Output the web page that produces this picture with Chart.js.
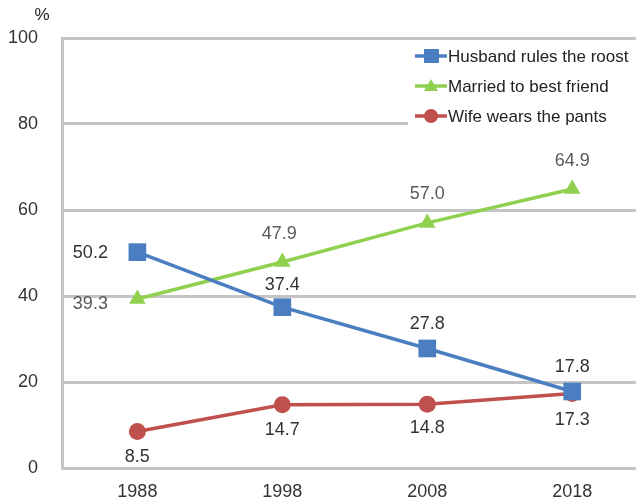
<!DOCTYPE html>
<html>
<head>
<meta charset="utf-8">
<script src="https://cdn.jsdelivr.net/npm/chart.js@4/dist/chart.umd.min.js"></script>
<style>
  html, body { margin: 0; padding: 0; background: #fff; }
  #wrap { width: 638px; height: 504px; position: relative; }
</style>
</head>
<body>
<div id="wrap"><canvas id="chart" width="638" height="504"></canvas></div>
<script>
const years = [1988, 1998, 2008, 2018];
const husband = [50.2, 37.4, 27.8, 17.8];
const married = [39.3, 47.9, 57.0, 64.9];
const wife = [8.5, 14.7, 14.8, 17.3];
const seriesNames = ['Husband rules the roost', 'Married to best friend', 'Wife wears the pants'];
const yTicks = [0, 20, 40, 60, 80, 100];

const blue = '#4a7ec0';
const green = '#8fd14f';
const red = '#c0504d';
const gridGray = '#c4c4c4';
const font = 'Liberation Sans, Arial, sans-serif';

// where each value label sits relative to its point: [dx, dy]
const labelOffsets = [
    [[-47, 1], [0, -22], [0, -24], [0, -24]],
    [[-47, 5], [-3, -28], [0, -29], [0, -28]],
    [[0, 26], [0, 25], [0, 24], [0, 26]]
];
const labelColors = ['#333', '#595959', '#333'];

function pts(vals) {
    return vals.map((v, i) => ({ x: years[i], y: v }));
}

const valueLabels = {
    id: 'valueLabels',
    afterDatasetsDraw(chart) {
        const c = chart.ctx;
        c.save();
        c.font = '18px ' + font;
        c.textAlign = 'center';
        c.textBaseline = 'middle';
        chart.data.datasets.forEach((ds, di) => {
            chart.getDatasetMeta(di).data.forEach((el, i) => {
                const o = labelOffsets[di][i];
                c.fillStyle = labelColors[di];
                c.fillText(ds.data[i].y.toFixed(1), el.x + o[0], el.y + o[1]);
            });
        });
        // year labels under the axis, placed by the x scale
        const xs = chart.scales.x;
        c.fillStyle = '#333';
        years.forEach(yr => {
            c.fillText(String(yr), xs.getPixelForValue(yr), chart.chartArea.bottom + 24);
        });
        c.restore();
    }
};

const boxLegend = {
    id: 'boxLegend',
    afterDraw(chart) {
        const c = chart.ctx;
        c.save();
        c.fillStyle = '#fff';
        c.fillRect(408, 42, 230, 88);
        const rows = [56, 86, 116];
        const styles = [[blue, 'rect'], [green, 'triangle'], [red, 'circle']];
        rows.forEach((y, i) => {
            const col = styles[i][0];
            c.strokeStyle = col;
            c.fillStyle = col;
            c.lineWidth = 3.5;
            c.beginPath();
            c.moveTo(415, y);
            c.lineTo(447, y);
            c.stroke();
            c.beginPath();
            if (styles[i][1] === 'rect') {
                c.fillRect(424, y - 7, 15, 14);
            } else if (styles[i][1] === 'triangle') {
                c.moveTo(431, y - 7);
                c.lineTo(438, y + 5);
                c.lineTo(424, y + 5);
                c.closePath();
                c.fill();
            } else {
                c.arc(431, y, 7, 0, Math.PI * 2);
                c.fill();
            }
            c.fillStyle = '#222';
            c.font = '17px ' + font;
            c.textAlign = 'left';
            c.textBaseline = 'middle';
            c.fillText(seriesNames[i], 448, y + 1);
        });
        c.fillStyle = '#222';
        c.font = '17px ' + font;
        c.textAlign = 'center';
        c.fillText('%', 42, 15);
        c.restore();
    }
};

new Chart(document.getElementById('chart'), {
    type: 'line',
    data: {
        datasets: [
            {
                label: seriesNames[0], data: pts(husband),
                borderColor: blue, backgroundColor: blue, borderWidth: 3.5,
                pointStyle: 'rect', pointRadius: 12.5, pointBorderWidth: 0
            },
            {
                label: seriesNames[1], data: pts(married),
                borderColor: green, backgroundColor: green, borderWidth: 3.5,
                pointStyle: 'triangle', pointRadius: 9.5, pointBorderWidth: 0
            },
            {
                label: seriesNames[2], data: pts(wife),
                borderColor: red, backgroundColor: red, borderWidth: 3.5,
                pointStyle: 'circle', pointRadius: 8.5, pointBorderWidth: 0
            }
        ]
    },
    options: {
        responsive: false,
        animation: false,
        layout: { autoPadding: false, padding: { top: 38, right: 2, left: 0, bottom: 0 } },
        plugins: { legend: { display: false }, tooltip: { enabled: false } },
        scales: {
            x: {
                type: 'linear',
                min: 1982.8,
                max: 2022.4,
                afterBuildTicks: (s) => { s.ticks = years.map(v => ({ value: v })); },
                afterFit: (s) => { s.height = 36; },
                grid: { display: false },
                border: { display: false },
                ticks: { display: false }
            },
            y: {
                min: 0,
                max: 100,
                afterBuildTicks: (s) => { s.ticks = yTicks.map(v => ({ value: v })); },
                afterFit: (s) => { s.width = 62; },
                grid: { color: gridGray, lineWidth: 3, drawTicks: false },
                border: { color: gridGray, width: 3 },
                ticks: { color: '#333', font: { family: font, size: 18 }, padding: 24 }
            }
        }
    },
    plugins: [valueLabels, boxLegend]
});
</script>
</body>
</html>
